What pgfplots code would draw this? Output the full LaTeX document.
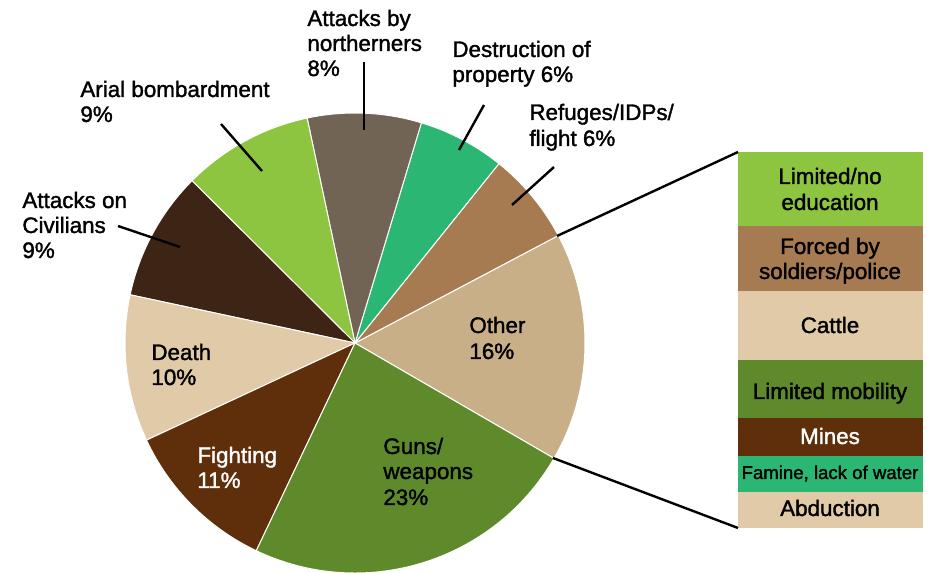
\documentclass[border=0pt]{standalone}
\usepackage{pgfplots}
\pgfplotsset{compat=1.18}
\usepackage{pgfplotstable}
\usepackage{fontspec}
\setmainfont{Liberation Sans}[UprightFeatures={FakeBold=1.5}]

\definecolor{cOther}{HTML}{C9AF88}
\definecolor{cLight}{HTML}{E1CAA8}
\definecolor{cRef}{HTML}{A77B51}
\definecolor{cGreen}{HTML}{2CB673}
\definecolor{cNor}{HTML}{716454}
\definecolor{cLime}{HTML}{8DC540}
\definecolor{cCiv}{HTML}{3E2415}
\definecolor{cFig}{HTML}{5F2F0B}
\definecolor{cGun}{HTML}{5E8A2B}

% pie shares (counter-clockwise from the lower edge of "Other")
\pgfplotstableread{
name value color
Other 16.1 cOther
Refuges 6.5 cRef
Destruction 6.1 cGreen
Northerners 8.0 cNor
Arial 9.2 cLime
Civilians 9.1 cCiv
Death 10.3 cLight
Fighting 11.0 cFig
Guns 23.7 cGun
}\piedata

% breakdown of "Other", bottom to top
\pgfplotstableread{
name value
Abduction 9.7
Famine 9.5
Mines 10.0
Mobility 15.5
Cattle 18.2
Forced 17.3
Education 19.8
}\otherdata

\newcommand{\lbl}[3][black]{\node[anchor=base west, inner sep=0pt, text=#1, font=\fontsize{11.2pt}{13pt}\selectfont] at (axis cs:#2) {#3};}
\newcommand{\blbl}[3][black]{\node[anchor=base, inner sep=0pt, text=#1, font=\fontsize{11.2pt}{13pt}\selectfont] at (axis cs:#2) {#3};}

\begin{document}
\begin{tikzpicture}
% stacked bar for the "Other" breakdown
\begin{axis}[
    at={(369pt,22pt)}, anchor=south west,
    width=92.5pt, height=188pt, scale only axis,
    xmin=0, xmax=1, ymin=0, ymax=100,
    hide axis,
    ybar stacked, bar width=92.5pt,
]
\addplot[fill=cLight, draw=none] table[x expr=0.5, y=value, skip coords between index={1}{7}] {\otherdata};
\addplot[fill=cGreen, draw=none] table[x expr=0.5, y=value, skip coords between index={0}{1}, skip coords between index={2}{7}] {\otherdata};
\addplot[fill=cFig, draw=none] table[x expr=0.5, y=value, skip coords between index={0}{2}, skip coords between index={3}{7}] {\otherdata};
\addplot[fill=cGun, draw=none] table[x expr=0.5, y=value, skip coords between index={0}{3}, skip coords between index={4}{7}] {\otherdata};
\addplot[fill=cLight, draw=none] table[x expr=0.5, y=value, skip coords between index={0}{4}, skip coords between index={5}{7}] {\otherdata};
\addplot[fill=cRef, draw=none] table[x expr=0.5, y=value, skip coords between index={0}{5}, skip coords between index={6}{7}] {\otherdata};
\addplot[fill=cLime, draw=none] table[x expr=0.5, y=value, skip coords between index={0}{6}] {\otherdata};
\end{axis}

\begin{axis}[
    x=0.5pt, y=0.5pt,
    xmin=0, xmax=930, ymin=0, ymax=572,
    hide axis, clip=false,
]
\def\cx{355}\def\cy{229}\def\pieR{115pt}
\xdef\angA{-30.1}
\pgfplotstableforeachcolumnelement{value}\of\piedata\as\v{%
  \pgfplotstablegetelem{\pgfplotstablerow}{color}\of\piedata
  \let\c\pgfplotsretval
  \pgfmathsetmacro\angB{\angA+3.6*\v}%
  \edef\tmp{\noexpand\fill[\c, draw=white, line width=0.5pt]
    (axis cs:\cx,\cy) -- +(\angA:\pieR) arc[start angle=\angA, end angle=\angB, radius=\pieR] -- cycle;}%
  \tmp
  \xdef\angA{\angB}%
}

% leader lines
\draw[line width=1.2pt] (axis cs:364,510) -- (axis cs:364,442);
\draw[line width=1.2pt] (axis cs:484,467) -- (axis cs:459,422);
\draw[line width=1.2pt] (axis cs:554,405) -- (axis cs:512,367);
\draw[line width=1.2pt] (axis cs:221,448) -- (axis cs:262,401);
\draw[line width=1.2pt] (axis cs:118,346) -- (axis cs:180,325);
\draw[line width=1.2pt] (axis cs:557,336) -- (axis cs:738,420);
\draw[line width=1.2pt] (axis cs:553,114) -- (axis cs:738,44);

% slice labels
\lbl{307,546}{Attacks by}
\lbl{307,521}{northerners}
\lbl{307,496}{8\%}
\lbl{452,515}{Destruction of}
\lbl{452,490}{property 6\%}
\lbl{529,452}{Refuges/IDPs/}
\lbl{529,426}{flight 6\%}
\lbl{80,475}{Arial bombardment}
\lbl{80,450}{9\%}
\lbl{22,364}{Attacks on}
\lbl{22,339}{Civilians}
\lbl{22,314}{9\%}
\lbl{151,212}{Death}
\lbl{151,187}{10\%}
\lbl[white]{197,109}{Fighting}
\lbl[white]{197,84}{11\%}
\lbl{383,118}{Guns/}
\lbl{383,93}{weapons}
\lbl{383,67}{23\%}
\lbl{469,239}{Other}
\lbl{469,213}{16\%}

% bar labels
\blbl{830,388}{Limited/no}
\blbl{830,362}{education}
\blbl{830,318}{Forced by}
\blbl{830,293}{soldiers/police}
\blbl{830,239}{Cattle}
\blbl{830,173}{Limited mobility}
\blbl[white]{830,128}{Mines}
\node[anchor=base, inner sep=0pt, font=\fontsize{9.3pt}{11pt}\selectfont] at (axis cs:830,93) {Famine, lack of water};
\blbl{830,56}{Abduction}
\end{axis}

\pgfresetboundingbox
\path (0,0) rectangle (465pt,286pt);
\end{tikzpicture}
\end{document}
